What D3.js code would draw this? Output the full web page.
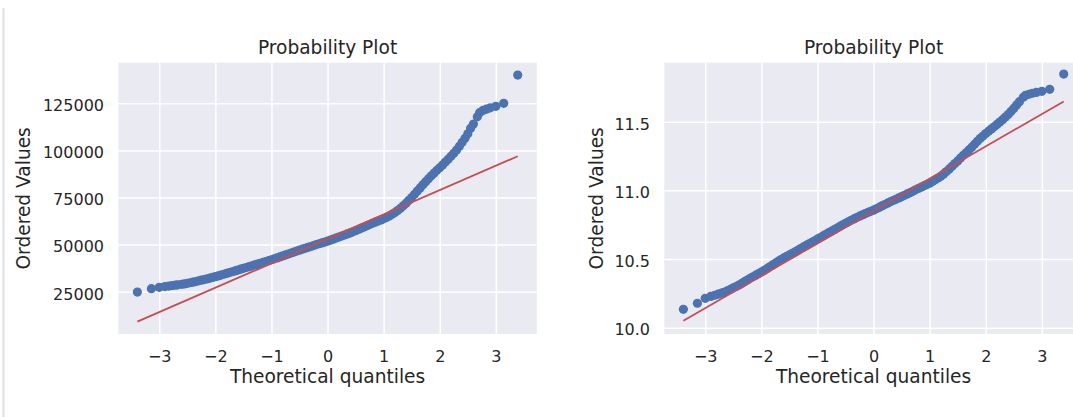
<!DOCTYPE html>
<html>
<head>
<meta charset="utf-8">
<script src="https://cdn.jsdelivr.net/npm/d3@7"></script>
<style>
  html, body { margin: 0; padding: 0; background: #ffffff; }
  svg { display: block; font-family: "DejaVu Sans", sans-serif; }
</style>
</head>
<body>
<svg id="chart" width="1073" height="417"></svg>
<script>
// Theoretical normal quantiles shared by both probability plots
const theoreticalQuantiles = [
  -3.39, -3.14, -3.00, -2.90, -2.83, -2.77, -2.71, -2.67,
  -2.60, -2.55, -2.50, -2.45, -2.40, -2.35, -2.30, -2.25, -2.20, -2.15, -2.10, -2.05,
  -2.00, -1.95, -1.90, -1.85, -1.80, -1.75, -1.70, -1.65, -1.60, -1.55,
  -1.50, -1.45, -1.40, -1.35, -1.30, -1.25, -1.20, -1.15, -1.10, -1.05,
  -1.00, -0.95, -0.90, -0.85, -0.80, -0.75, -0.70, -0.65, -0.60, -0.55,
  -0.50, -0.45, -0.40, -0.35, -0.30, -0.25, -0.20, -0.15, -0.10, -0.05,
  0.00, 0.05, 0.10, 0.15, 0.20, 0.25, 0.30, 0.35, 0.40, 0.45,
  0.50, 0.55, 0.60, 0.65, 0.70, 0.75, 0.80, 0.85, 0.90, 0.95,
  1.00, 1.05, 1.10, 1.15, 1.20, 1.25, 1.30, 1.35, 1.40, 1.45,
  1.50, 1.55, 1.60, 1.65, 1.70, 1.75, 1.80, 1.85, 1.90, 1.95,
  2.00, 2.05, 2.10, 2.15, 2.20, 2.25, 2.30, 2.35, 2.40, 2.45,
  2.50, 2.55, 2.60,
  2.67, 2.71, 2.77, 2.83, 2.90, 3.00, 3.14, 3.39
];

// Ordered values, raw scale
const rawValues = [
  24800, 26600, 27300, 27700, 28000, 28250, 28450, 28650,
  28900, 29150, 29450, 29750, 30050, 30400, 30750, 31100, 31450, 31800, 32200, 32600,
  33000, 33400, 33850, 34250, 34700, 35150, 35600, 36050, 36500, 36950,
  37400, 37850, 38300, 38750, 39200, 39650, 40100, 40550, 41000, 41450,
  41950, 42450, 42950, 43450, 44000, 44500, 45000, 45550, 46050, 46550,
  47050, 47550, 48000, 48500, 49000, 49500, 50000, 50450, 50900, 51350,
  51800, 52350, 52900, 53450, 54000, 54550, 55100, 55650, 56200, 56800,
  57400, 58050, 58700, 59350, 60000, 60650, 61300, 61900, 62500, 63100,
  63700, 64400, 65200, 66100, 67000, 68100, 69300, 70600, 72000, 73500,
  75000, 76700, 78400, 80100, 81800, 83400, 85000, 86500, 88000, 89400,
  90800, 92300, 93800, 95300, 96900, 98500, 100200, 102200, 104300, 106400,
  108800, 111700, 114000,
  117800, 120000, 121200, 121900, 122600, 123400, 125000, 140000
];

// Ordered values, log scale
const logValues = [
  10.134, 10.178, 10.214, 10.228, 10.236, 10.244, 10.252, 10.258,
  10.270, 10.280, 10.290, 10.300, 10.310, 10.322, 10.335, 10.347, 10.360, 10.371, 10.382, 10.393,
  10.405, 10.417, 10.430, 10.443, 10.457, 10.470, 10.483, 10.496, 10.508, 10.519,
  10.530, 10.541, 10.552, 10.564, 10.576, 10.588, 10.599, 10.611, 10.622, 10.633,
  10.645, 10.656, 10.668, 10.680, 10.692, 10.703, 10.714, 10.726, 10.737, 10.749,
  10.760, 10.771, 10.782, 10.792, 10.802, 10.812, 10.821, 10.830, 10.839, 10.847,
  10.856, 10.866, 10.876, 10.887, 10.897, 10.907, 10.917, 10.926, 10.935, 10.945,
  10.954, 10.964, 10.974, 10.983, 10.993, 11.004, 11.014, 11.023, 11.033, 11.042,
  11.052, 11.064, 11.077, 11.090, 11.103, 11.120, 11.137, 11.156, 11.175, 11.195,
  11.214, 11.235, 11.255, 11.274, 11.293, 11.314, 11.335, 11.357, 11.378, 11.396,
  11.414, 11.431, 11.447, 11.463, 11.480, 11.497, 11.515, 11.534, 11.553, 11.575,
  11.597, 11.622, 11.646,
  11.678, 11.692, 11.700, 11.707, 11.713, 11.721, 11.736, 11.847
];

// Least-squares reference lines
const rawFit = { slope: 12950, intercept: 53000 };
const logFit = { slope: 0.2355, intercept: 10.849 };

// Tick labels
const quantileTicks = [-3, -2, -1, 0, 1, 2, 3];
const rawTicks = [25000, 50000, 75000, 100000, 125000];
const logTicks = [10.0, 10.5, 11.0, 11.5];

const svg = d3.select("#chart");
const TEXT = "#262626";
const BG = "#EAEAF2";
const DOT = "#4C72B0";
const LINE = "#C44E52";

// faint frame line at the left edge of the output cell
svg.append("line")
  .attr("x1", 3.5).attr("x2", 3.5)
  .attr("y1", 8).attr("y2", 417)
  .attr("stroke", "#dde0eb").attr("stroke-width", 2);

const plotTop = 62.7, plotBottom = 334;
const plotH = plotBottom - plotTop;

function probPlot(opts) {
  const { left, width, values, fit, yDomain, yTicks, yFormat, ylabelX } = opts;
  const x = d3.scaleLinear().domain([-3.73, 3.73]).range([left, left + width]);
  const y = d3.scaleLinear().domain(yDomain).range([plotBottom, plotTop]);

  const g = svg.append("g");

  g.append("rect")
    .attr("x", left).attr("y", plotTop)
    .attr("width", width).attr("height", plotH)
    .attr("fill", BG);

  // x axis with full-height white grid
  const xAxis = g.append("g")
    .attr("transform", `translate(0,${plotBottom})`)
    .call(d3.axisBottom(x).tickValues(quantileTicks).tickSize(-plotH).tickFormat(d3.format("d")));
  xAxis.select(".domain").remove();
  xAxis.selectAll(".tick line").attr("stroke", "#ffffff").attr("stroke-width", 1.5);
  xAxis.selectAll(".tick text")
    .attr("y", 28).attr("dy", null)
    .attr("fill", TEXT)
    .style("font-size", "16px")
    .style("font-family", "'DejaVu Sans', sans-serif");

  // y axis with full-width white grid
  const yAxis = g.append("g")
    .attr("transform", `translate(${left},0)`)
    .call(d3.axisLeft(y).tickValues(yTicks).tickSize(-width).tickFormat(yFormat));
  yAxis.select(".domain").remove();
  yAxis.selectAll(".tick line").attr("stroke", "#ffffff").attr("stroke-width", 1.5);
  yAxis.selectAll(".tick text")
    .attr("x", -14.3).attr("y", 7.3).attr("dy", null)
    .attr("fill", TEXT)
    .style("font-size", "16px")
    .style("font-family", "'DejaVu Sans', sans-serif");

  // ordered values against theoretical quantiles
  g.append("g").selectAll("circle")
    .data(theoreticalQuantiles.map((q, i) => [q, values[i]]))
    .join("circle")
    .attr("cx", d => x(d[0]))
    .attr("cy", d => y(d[1]))
    .attr("r", 4.6)
    .attr("fill", DOT);

  // fitted reference line
  const qMin = d3.min(theoreticalQuantiles), qMax = d3.max(theoreticalQuantiles);
  g.append("line")
    .attr("x1", x(qMin)).attr("y1", y(fit.intercept + fit.slope * qMin))
    .attr("x2", x(qMax)).attr("y2", y(fit.intercept + fit.slope * qMax))
    .attr("stroke", LINE).attr("stroke-width", 1.8);

  const cx = left + width / 2;
  g.append("text")
    .attr("x", cx).attr("y", 53.5)
    .attr("text-anchor", "middle")
    .attr("fill", TEXT)
    .style("font-size", "18.6px")
    .text("Probability Plot");

  g.append("text")
    .attr("x", cx).attr("y", 383)
    .attr("text-anchor", "middle")
    .attr("fill", TEXT)
    .style("font-size", "18.6px")
    .text("Theoretical quantiles");

  g.append("text")
    .attr("transform", `translate(${ylabelX},${(plotTop + plotBottom) / 2}) rotate(-90)`)
    .attr("text-anchor", "middle")
    .attr("fill", TEXT)
    .style("font-size", "18.6px")
    .text("Ordered Values");
}

probPlot({
  left: 118.3, width: 418.5,
  values: rawValues, fit: rawFit,
  yDomain: [2548, 146550], yTicks: rawTicks,
  yFormat: d3.format("d"), ylabelX: 30
});

probPlot({
  left: 664.3, width: 418.5,
  values: logValues, fit: logFit,
  yDomain: [9.954, 11.9296], yTicks: logTicks,
  yFormat: d3.format(".1f"), ylabelX: 603.3
});
</script>
</body>
</html>
